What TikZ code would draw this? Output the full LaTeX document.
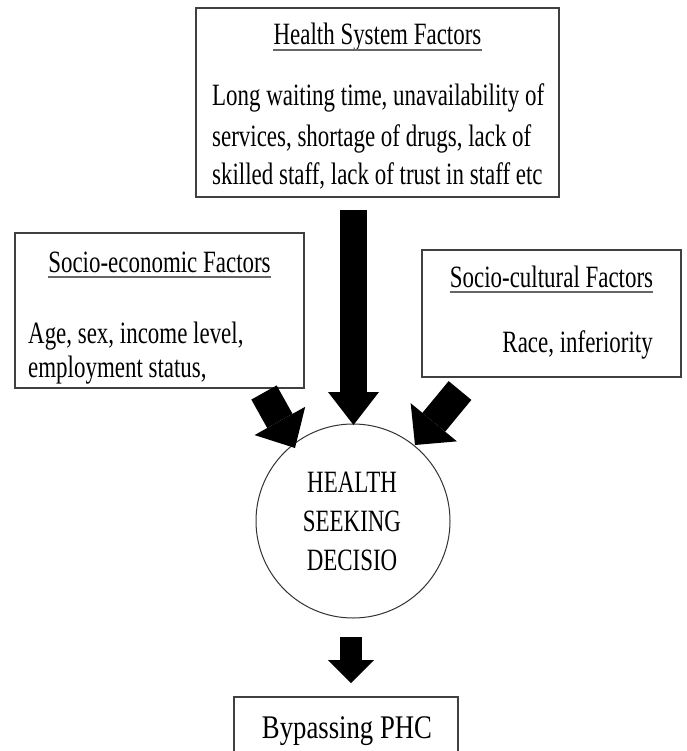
\documentclass[tikz,border=0pt]{standalone}
\usepackage{fontspec}
\setmainfont{Liberation Serif}[FakeStretch=0.74]
\newfontfamily\bigfont{Liberation Serif}[FakeStretch=0.81]
\usetikzlibrary{arrows.meta}
\begin{document}
\begin{tikzpicture}[x=1pt,y=-1pt,
  box/.style={draw=black!75, line width=1.3pt, rectangle, inner sep=0pt},
  txt/.style={inner sep=0pt, text=black, font=\fontsize{31}{39}\selectfont},
  uline/.style={draw=black!60, line width=1.2pt},
  blockarrow/.style n args={4}{draw=black, line width=#1,
     -{Triangle[width=#2,length=#3,line width=0pt]}, shorten <=#4}
]
\clip (0,0) rectangle (686,751);
\fill[white] (0,0) rectangle (686,751);

% boxes
\node[box, minimum width=363pt, minimum height=189pt] (hs) at (377.5,102.5) {};
\node[box, minimum width=289pt, minimum height=155pt] (se) at (159.5,310.5) {};
\node[box, minimum width=259pt, minimum height=127pt] (sc) at (551.5,313.5) {};
\node[draw=black!80, line width=1pt, circle, minimum size=194pt, inner sep=0pt] (hsd) at (353,521) {};
\node[box, minimum width=224pt, minimum height=103pt] (bp) at (346,748.5) {};

% health system text
\node[txt, anchor=base] (hst) at (377.5,45) {Health System Factors};
\draw[uline] ([yshift=-5pt]hst.base west) -- ([yshift=-5pt]hst.base east);
\node[txt, anchor=base west] (hs1) at (212,106) {Long waiting time, unavailability of};
\node[txt, anchor=base west] (hs2) at (212,146.5) {services, shortage of drugs, lack of};
\node[txt, anchor=base west] (hs3) at (212,185) {skilled staff, lack of trust in staff etc};

% socio-economic text
\node[txt, anchor=base] (set) at (159.5,272) {Socio-economic Factors};
\draw[uline] ([yshift=-5pt]set.base west) -- ([yshift=-5pt]set.base east);
\node[txt, anchor=base west] (se1) at (28,343) {Age, sex, income level,};
\node[txt, anchor=base west] (se2) at (28,377) {employment status,};

% socio-cultural text
\node[txt, anchor=base] (sct) at (551.5,287) {Socio-cultural Factors};
\draw[uline] ([yshift=-5pt]sct.base west) -- ([yshift=-5pt]sct.base east);
\node[txt, anchor=base east] (sc1) at (653,352) {Race, inferiority};

% circle text
\node[txt, anchor=base] (c1) at (352,492) {HEALTH};
\node[txt, anchor=base] (c2) at (352,531) {SEEKING};
\node[txt, anchor=base] (c3) at (352,570) {DECISIO};

% bottom box text
\node[inner sep=0pt, text=black, font=\bigfont\fontsize{33}{39}\selectfont, anchor=base] (bpt) at (347,738) {Bypassing PHC};

% arrows
\coordinate (a1s) at (353.5,210);  \coordinate (a1e) at (353.5,425);
\coordinate (a2s) at (264,392.5);  \coordinate (a2e) at (295,448);
\coordinate (a3s) at (460,390.5);  \coordinate (a3e) at (415,445);
\coordinate (a4s) at (351,637);    \coordinate (a4e) at (351,683);
\draw[blockarrow={27pt}{51pt}{33pt}{0pt}] (a1s) -- (a1e);
\draw[blockarrow={29pt}{58pt}{31pt}{0pt}] (a2s) -- (a2e);
\draw[blockarrow={29.5pt}{60pt}{29.5pt}{0pt}] (a3s) -- (a3e);
\draw[blockarrow={22pt}{46pt}{23pt}{0pt}] (a4s) -- (a4e);
\end{tikzpicture}
\end{document}
